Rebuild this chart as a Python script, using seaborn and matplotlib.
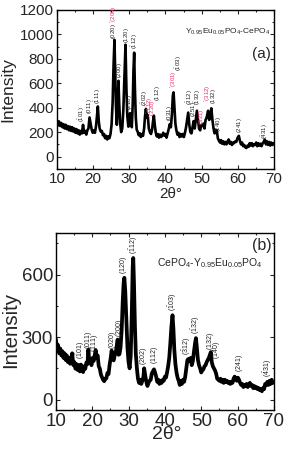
import matplotlib
matplotlib.use("Agg")
import matplotlib.pyplot as plt
from matplotlib.ticker import MultipleLocator
import seaborn as sns
import pandas as pd

# ---------------- data: panel (a) Y0.95Eu0.05PO4-CePO4 ----------------
two_theta_a = [10.0, 10.3, 10.6, 10.9, 11.2, 11.5, 11.8, 12.1, 12.4, 12.7, 13.0, 13.3, 13.6, 13.9,
               14.2, 14.5, 14.8, 15.1, 15.4, 15.7, 16.0, 16.3, 16.6, 16.9, 17.2, 17.5, 17.8, 18.1,
               18.4, 18.7, 19.0, 19.3, 19.6, 19.9, 20.2, 20.5, 20.8, 21.05, 21.3, 21.55, 21.8, 22.1,
               22.4, 22.7, 23.0, 23.3, 23.6, 23.9, 24.2, 24.5, 24.8, 25.1, 25.4, 25.65, 25.9, 26.1,
               26.3, 26.55, 26.8, 27.0, 27.2, 27.45, 27.75, 28.05, 28.35, 28.65, 28.95, 29.2, 29.45,
               29.75, 30.0, 30.2, 30.45, 30.7, 30.95, 31.15, 31.35, 31.55, 31.8, 32.05, 32.3, 32.6,
               32.9, 33.2, 33.5, 33.8, 34.1, 34.35, 34.6, 34.85, 35.1, 35.4, 35.7, 36.0, 36.3, 36.55,
               36.8, 37.05, 37.3, 37.6, 37.9, 38.2, 38.5, 38.8, 39.1, 39.4, 39.7, 40.0, 40.3, 40.6,
               40.9, 41.2, 41.5, 41.8, 42.05, 42.25, 42.5, 42.75, 43.0, 43.3, 43.6, 43.9, 44.2, 44.5,
               44.8, 45.1, 45.4, 45.7, 46.0, 46.3, 46.6, 46.9, 47.2, 47.5, 47.8, 48.1, 48.4, 48.7,
               49.0, 49.3, 49.6, 49.9, 50.2, 50.5, 50.8, 51.1, 51.4, 51.8, 52.1, 52.4, 52.7, 53.0,
               53.3, 53.6, 53.9, 54.2, 54.5, 54.8, 55.1, 55.4, 55.7, 56.0, 56.3, 56.6, 56.9, 57.2,
               57.5, 57.8, 58.1, 58.4, 58.7, 59.0, 59.3, 59.6, 59.9, 60.3, 60.6, 60.9, 61.2, 61.5,
               61.8, 62.1, 62.4, 62.7, 63.0, 63.3, 63.6, 63.9, 64.2, 64.5, 64.8, 65.1, 65.4, 65.7,
               66.0, 66.3, 66.6, 66.9, 67.2, 67.5, 67.8, 68.1, 68.4, 68.7, 69.0, 69.3, 69.6, 70.0]
intensity_a = [295, 255, 285, 250, 275, 240, 265, 230, 260, 225, 250, 215, 245, 210,
               240, 205, 230, 195, 225, 190, 215, 180, 210, 190, 260, 195, 210, 180,
               215, 230, 320, 270, 220, 195, 215, 195, 250, 330, 410, 290, 230, 205,
               210, 175, 185, 150, 170, 140, 165, 150, 185, 260, 450, 750, 955, 700,
               420, 260, 420, 620, 440, 280, 200, 230, 380, 650, 915, 560, 330,
               245, 300, 355, 270, 240, 430, 700, 850, 560, 320, 220, 205, 175,
               190, 160, 185, 170, 230, 330, 390, 320, 340, 230, 200, 185, 220, 285,
               335, 260, 200, 165, 185, 155, 180, 160, 175, 195, 170, 185, 155, 190,
               225, 265, 240, 350, 500, 525, 400, 270, 220, 180, 195, 160, 185, 165,
               185, 160, 195, 240, 300, 360, 260, 200, 190, 240, 290, 230, 300, 375,
               300, 230, 215, 260, 250, 270, 230, 300, 320, 375, 300, 340, 395, 300,
               230, 190, 220, 215, 150, 130, 115, 135, 105, 125, 100, 120, 100, 125,
               140, 105, 120, 95, 115, 110, 125, 120, 150, 170, 130, 100, 115, 85,
               95, 75, 70, 90, 80, 110, 90, 110, 85, 100, 95, 115, 85, 110,
               90, 105, 85, 110, 120, 140, 100, 125, 95, 120, 90, 115, 95, 110]

# ---------------- data: panel (b) CePO4-Y0.95Eu0.05PO4 ----------------
two_theta_b = [10.0, 10.3, 10.6, 10.9, 11.2, 11.5, 11.8, 12.1, 12.4, 12.7, 13.0, 13.3, 13.6, 13.9,
               14.2, 14.5, 14.8, 15.1, 15.4, 15.7, 16.0, 16.3, 16.6, 16.9, 17.2, 17.5, 17.8, 18.1,
               18.4, 18.7, 18.95, 19.2, 19.5, 19.8, 20.1, 20.4, 20.7, 20.95, 21.2, 21.5, 21.8, 22.1,
               22.4, 22.7, 23.0, 23.3, 23.6, 23.9, 24.2, 24.5, 24.8, 25.1, 25.35, 25.6, 25.9, 26.2,
               26.5, 26.75, 27.0, 27.25, 27.5, 27.8, 28.1, 28.4, 28.65, 28.85, 29.1, 29.4, 29.7, 30.0,
               30.3, 30.6, 30.9, 31.15, 31.3, 31.5, 31.75, 32.0, 32.3, 32.6, 32.9, 33.2, 33.5, 33.8,
               34.1, 34.3, 34.6, 34.9, 35.2, 35.5, 35.8, 36.1, 36.4, 36.7, 37.0, 37.3, 37.6, 37.9,
               38.2, 38.5, 38.8, 39.1, 39.4, 39.7, 40.0, 40.3, 40.6, 40.9, 41.2, 41.5, 41.8, 42.1,
               42.35, 42.6, 42.9, 43.2, 43.5, 43.8, 44.1, 44.4, 44.7, 45.0, 45.3, 45.6, 45.9, 46.2,
               46.5, 46.8, 47.1, 47.4, 47.7, 48.0, 48.3, 48.55, 48.8, 49.1, 49.4, 49.7, 50.0, 50.3,
               50.6, 50.9, 51.2, 51.5, 51.8, 52.1, 52.4, 52.65, 52.9, 53.2, 53.5, 53.8, 54.1, 54.4,
               54.7, 55.0, 55.3, 55.6, 55.9, 56.2, 56.5, 56.8, 57.1, 57.4, 57.7, 58.0, 58.3, 58.6,
               58.9, 59.2, 59.5, 59.8, 60.1, 60.4, 60.7, 61.0, 61.3, 61.6, 61.9, 62.2, 62.5, 62.8,
               63.1, 63.4, 63.7, 64.0, 64.3, 64.6, 64.9, 65.2, 65.5, 65.8, 66.1, 66.4, 66.7, 67.0,
               67.3, 67.6, 67.9, 68.2, 68.5, 68.8, 69.1, 69.4, 69.7, 70.0]
intensity_b = [290, 250, 262, 222, 245, 212, 232, 200, 222, 190, 212, 180, 200, 172,
               195, 222, 165, 180, 148, 170, 142, 165, 135, 168, 148, 132, 160, 148,
               178, 170, 240, 180, 195, 165, 200, 185, 215, 238, 200, 212, 160, 148,
               120, 108, 95, 88, 100, 102, 128, 122, 168, 200, 235, 200, 188, 212,
               228, 258, 288, 215, 218, 250, 330, 470, 560, 585, 520, 380, 250, 180,
               150, 210, 420, 640, 680, 560, 360, 220, 150, 100, 80, 95, 75, 90,
               110, 150, 115, 85, 65, 80, 90, 95, 125, 135, 145, 130, 110, 85,
               95, 75, 90, 80, 95, 90, 110, 105, 130, 160, 200, 270, 350, 405,
               340, 240, 170, 130, 105, 90, 70, 90, 75, 95, 85, 110, 150, 190,
               195, 185, 200, 165, 185, 230, 270, 295, 250, 190, 165, 150, 130, 140,
               145, 160, 165, 180, 190, 200, 215, 228, 180, 160, 150, 140, 125, 100,
               95, 90, 100, 85, 95, 80, 95, 85, 90, 80, 85, 75, 85, 80,
               100, 110, 95, 90, 105, 95, 80, 70, 75, 60, 70, 65, 75, 60,
               70, 80, 65, 70, 55, 65, 55, 60, 50, 55, 45, 50, 40, 55,
               50, 75, 70, 85, 70, 90, 75, 95, 80, 85]

# ---------------- peak labels ----------------
lab_x_a = [16.9, 19.1, 21.4, 25.7, 25.7, 27.4, 29.2, 30.1, 31.6, 34.4, 35.6, 36.6, 37.9,
           41.1, 42.4, 43.6, 46.8, 48.0, 49.0, 50.0, 51.8, 53.2, 54.6, 60.5, 67.4]
lab_y_a = [285, 345, 430, 965, 1090, 640, 930, 380, 880, 410, 345, 320, 455,
           290, 560, 700, 425, 320, 420, 250, 445, 430, 205, 190, 140]
lab_t_a = [r"$(\bar{1}01)$", r"$(011)$", r"$(\bar{1}11)$", r"$(020)$", r"$^{*}(200)$",
           r"$(200)$", r"$(120)$", r"$(210)$", r"$(\bar{1}12)$", r"$(\bar{2}02)$",
           r"$^{*}(1\bar{1}2)$", r"$^{*}(220)$", r"$(112)$", r"$(031)$", r"$^{*}(301)$",
           r"$(\bar{1}03)$", r"$(\bar{3}12)$", r"$(\bar{2}51)$", r"$(\bar{1}32)$",
           r"$^{*}(321)$", r"$^{*}(312)$", r"$(132)$", r"$(140)$", r"$(241)$", r"$(\bar{4}31)$"]
lab_c_a = ["k", "k", "k", "k", "r", "k", "k", "k", "k", "k", "r", "r", "k",
           "k", "r", "k", "k", "k", "k", "r", "r", "k", "k", "k", "k"]

lab_x_b = [16.8, 18.9, 20.6, 25.6, 27.4, 28.6, 31.4, 34.3, 37.1, 42.1, 46.0, 48.4, 52.5,
           54.3, 60.5, 68.3]
lab_y_b = [195, 245, 230, 245, 300, 605, 700, 165, 170, 425, 215, 315, 240, 195, 130, 110]
lab_t_b = [r"$(\bar{1}01)$", r"$(011)$", r"$(\bar{1}11)$", r"$(020)$", r"$(200)$",
           r"$(120)$", r"$(\bar{1}12)$", r"$(\bar{2}02)$", r"$(112)$", r"$(\bar{1}03)$",
           r"$(\bar{3}12)$", r"$(\bar{1}32)$", r"$(132)$", r"$(140)$", r"$(241)$",
           r"$(\bar{4}31)$"]

sns.set_theme(style="ticks")
plt.rcParams["font.family"] = ["Liberation Sans", "DejaVu Sans"]
plt.rcParams["mathtext.fontset"] = "custom"
plt.rcParams["mathtext.rm"] = "Liberation Sans"
plt.rcParams["mathtext.it"] = "Liberation Sans:italic"
plt.rcParams["mathtext.bf"] = "Liberation Sans:bold"

RED = "#f0306a"
fig = plt.figure(figsize=(2.85, 4.49), dpi=100)
ax_a = fig.add_axes([0.200, 0.624, 0.761, 0.354])
ax_b = fig.add_axes([0.196, 0.087, 0.765, 0.394])

df_a = pd.DataFrame({"two_theta": two_theta_a, "intensity": intensity_a})
df_b = pd.DataFrame({"two_theta": two_theta_b, "intensity": intensity_b})
sns.lineplot(data=df_a, x="two_theta", y="intensity", ax=ax_a, color="black",
             lw=1.9, estimator=None, sort=False)
sns.lineplot(data=df_b, x="two_theta", y="intensity", ax=ax_b, color="black",
             lw=2.7, estimator=None, sort=False)


def style(ax, ylim, ymaj, ymin, tsize, lsize, ylsize):
    ax.set_xlim(10, 70)
    ax.set_ylim(*ylim)
    ax.xaxis.set_major_locator(MultipleLocator(10))
    ax.xaxis.set_minor_locator(MultipleLocator(5))
    ax.yaxis.set_major_locator(MultipleLocator(ymaj))
    ax.yaxis.set_minor_locator(MultipleLocator(ymin))
    ax.tick_params(which="both", direction="in", top=True, right=True, width=0.8,
                   labelsize=tsize, pad=2)
    ax.tick_params(which="major", length=3)
    ax.tick_params(which="minor", length=1.5)
    for s in ax.spines.values():
        s.set_linewidth(1.0)
        s.set_color("black")
    ax.set_xlabel("2θ°", fontsize=lsize, labelpad=0)
    ax.set_ylabel("Intensity", fontsize=ylsize, labelpad=0)


style(ax_a, (-100, 1200), 200, 100, 11, 11, 12.5)
style(ax_b, (-50, 800), 300, 150, 13.5, 14, 14.8)
ax_a.yaxis.set_label_coords(-0.19, 0.5)
ax_a.xaxis.set_label_coords(0.525, -0.115)
ax_b.yaxis.set_label_coords(-0.163, 0.45)
ax_b.xaxis.set_label_coords(0.51, -0.088)
ax_b.set_yticks([0, 300, 600])

for x, y, t, c in zip(lab_x_a, lab_y_a, lab_t_a, lab_c_a):
    ax_a.text(x, y, t, rotation=90, ha="center", va="bottom", fontsize=4.3,
              color=(RED if c == "r" else "#222222"))
for x, y, t in zip(lab_x_b, lab_y_b, lab_t_b):
    ax_b.text(x, y, t, rotation=90, ha="center", va="bottom", fontsize=5.0, color="#222222")

ax_a.text(0.59, 0.86, r"Y$_{0.95}$Eu$_{0.05}$PO$_4$-CePO$_4$", transform=ax_a.transAxes,
          fontsize=6, ha="left", va="center")
ax_a.text(0.985, 0.72, "(a)", transform=ax_a.transAxes, fontsize=11, ha="right", va="center")
ax_b.text(0.99, 0.93, "(b)", transform=ax_b.transAxes, fontsize=11.5, ha="right", va="center")
ax_b.text(0.463, 0.83, r"CePO$_4$-Y$_{0.95}$Eu$_{0.05}$PO$_4$", transform=ax_b.transAxes,
          fontsize=7.5, ha="left", va="center")

fig.savefig("out.png", dpi=100)
